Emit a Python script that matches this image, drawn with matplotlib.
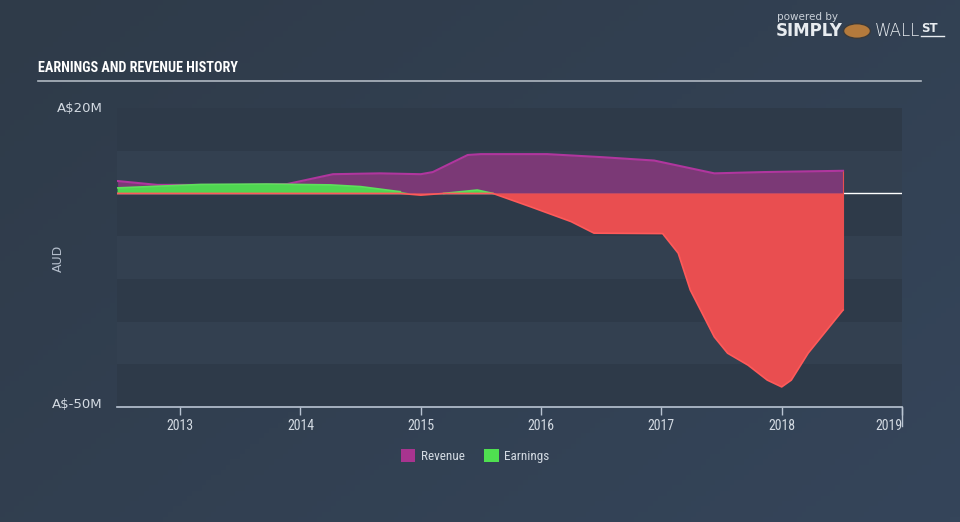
import numpy as np
import matplotlib.pyplot as plt
from matplotlib import font_manager
from matplotlib.patches import Patch, Circle
from matplotlib.lines import Line2D
from matplotlib.colors import LinearSegmentedColormap

# data (A$ millions)
rev_x = [2012.48, 2012.81, 2013.5, 2013.89, 2014.27, 2014.66, 2015.0, 2015.1,
         2015.39, 2015.5, 2016.05, 2016.5, 2016.94, 2017.44, 2017.85, 2018.51]
rev_y = [2.9, 2.0, 2.0, 2.2, 4.5, 4.7, 4.5, 5.0, 9.0, 9.2, 9.2, 8.5, 7.7, 4.7, 5.0, 5.3]

earn_x = [2012.48, 2013.17, 2013.72, 2014.25, 2014.5, 2014.83, 2015.0, 2015.19,
          2015.47, 2015.6, 2015.91, 2016.25, 2016.44, 2017.01, 2017.14, 2017.24,
          2017.44, 2017.55, 2017.72, 2017.88, 2018.0, 2018.08, 2018.22, 2018.51]
earn_y = [1.3, 2.1, 2.2, 2.0, 1.6, 0.4, -0.4, 0.0, 0.8, 0.0, -3.1, -6.6, -9.3,
          -9.4, -14.0, -22.6, -33.6, -37.4, -40.2, -43.7, -45.3, -43.7, -37.4, -27.3]

years = [2013, 2014, 2015, 2016, 2017, 2018, 2019]
y_labels = ["A\\$20M", "A\\$-50M"]

# pick a narrow family if there is one
names = {f.name for f in font_manager.fontManager.ttflist}
narrow = None
for n in ["DejaVu Sans Condensed", "Liberation Sans Narrow", "Roboto Condensed", "Open Sans Condensed"]:
    if n in names:
        narrow = n
        break
cond = narrow if narrow else "DejaVu Sans"

bg = "#323f4f"
txt = "#d3dae2"

fig = plt.figure(figsize=(9.6, 5.22), dpi=100)
fig.patch.set_facecolor(bg)

# background gradient
bgax = fig.add_axes([0, 0, 1, 1], zorder=-10)
gx = np.linspace(0, 1, 200)
grad = np.add.outer(np.linspace(0, 0.4, 100), gx * 0.6)
cm = LinearSegmentedColormap.from_list("bg", ["#2f3b49", "#35455a"])
bgax.imshow(grad, cmap=cm, aspect="auto", extent=[0, 1, 0, 1])
bgax.axis("off")

ax = fig.add_axes([117 / 960, 1 - 407 / 522, 785 / 960, 299 / 522])
ax.set_facecolor("none")
ax.set_xlim(2012.475, 2019.0)
ax.set_ylim(-50, 20)

# alternating bands
for i, lo in enumerate(range(-50, 20, 10)):
    c = "#2e3a49" if i % 2 == 0 else "#334050"
    ax.axhspan(lo, lo + 10, color=c, zorder=0, lw=0)

ax.axhline(0, color="white", lw=1, zorder=1)

rx = np.array(rev_x)
ry = np.array(rev_y)
ax.fill_between(rx, 0, ry, color="#7b3976", lw=0, zorder=2)
ax.plot(rx, ry, color="#b0369e", lw=1.5, zorder=3)

ex = np.array(earn_x)
ey = np.array(earn_y)
ax.fill_between(ex, 0, ey, where=ey >= 0, interpolate=True, color="#4fd651", lw=0, zorder=4)
ax.fill_between(ex, 0, ey, where=ey <= 0, interpolate=True, color="#e94e50", lw=0, zorder=4)
ax.plot(ex, np.where(ey >= 0, ey, np.nan), color="#5ee05c", lw=1.2, zorder=5)
ax.plot(ex, np.minimum(ey, 0), color="#ff5a5a", lw=1.2, zorder=5)
ax.vlines(ex[-1], ey[-1], rev_y[-1], color="#e94e50", lw=0.8, zorder=4)

for s in ["top", "right", "left"]:
    ax.spines[s].set_visible(False)
ax.spines["bottom"].set_color("#b9c4d2")
ax.spines["bottom"].set_linewidth(1.2)
ax.set_yticks([])
ax.set_xticks(years)
ax.set_xticklabels([str(y) for y in years], color=txt, fontsize=10, family=cond,
                   fontstretch="condensed")
ax.tick_params(axis="x", colors="#b9c4d2", length=6, width=1, labelcolor=txt, pad=3)
ax.get_xticklabels()[-1].set_horizontalalignment("right")
ax.add_line(Line2D([2019, 2019], [-50, -54.5], color="#b9c4d2", lw=1, clip_on=False))

fig.text(103 / 960, 1 - 108 / 522, y_labels[0], color=txt, fontsize=9.5, ha="right", va="center")
fig.text(103 / 960, 1 - 405 / 522, y_labels[1], color=txt, fontsize=9.5, ha="right", va="center")
fig.text(58 / 960, 1 - 258 / 522, "AUD", color="#b5bfcc", fontsize=9, rotation=90,
         ha="center", va="center")

# title
title_size = 10.2 if narrow else 8.5
fig.text(38 / 960, 1 - 68 / 522, "EARNINGS AND REVENUE HISTORY", color="white",
         fontsize=title_size, fontweight="bold", family=cond, fontstretch="condensed",
         va="center")
fig.add_artist(Line2D([38 / 960, 921 / 960], [1 - 81 / 522] * 2, color="#b0b8c2", lw=1.2))

# legend
handles = [Patch(facecolor="#a8348f", edgecolor="none", label="Revenue"),
           Patch(facecolor="#4fe050", edgecolor="none", label="Earnings")]
fig.legend(handles=handles, loc="center", bbox_to_anchor=(475 / 960, 1 - 456 / 522),
           ncol=2, frameon=False, labelcolor=txt, handlelength=1.1,
           handleheight=1.1, handletextpad=0.4, columnspacing=1.5,
           prop={"family": cond, "size": 9.5, "stretch": "condensed"})

# logo
fig.text(777 / 960, 1 - 17 / 522, "powered by", color="#c9d0d8", fontsize=7.5, va="center")
fig.text(776 / 960, 1 - 31 / 522, "SIMPLY", color="#e8ecf0", fontsize=12, fontweight="bold", va="center")
fig.add_artist(Circle((857 / 960, 1 - 31 / 522), 0.014, transform=fig.transFigure,
                      facecolor="#b47a3c", edgecolor="#3a3a3a", lw=1))
fig.text(875 / 960, 1 - 31 / 522, "WALL", color="#e8ecf0", fontsize=12, fontweight="light", va="center")
fig.text(921 / 960, 1 - 29 / 522, "ST", color="#e8ecf0", fontsize=8.5, fontweight="bold", va="center")
fig.add_artist(Line2D([921 / 960, 944 / 960], [1 - 36 / 522] * 2, color="#e8ecf0", lw=1))

fig.savefig("out.png", dpi=100, facecolor=fig.get_facecolor())
